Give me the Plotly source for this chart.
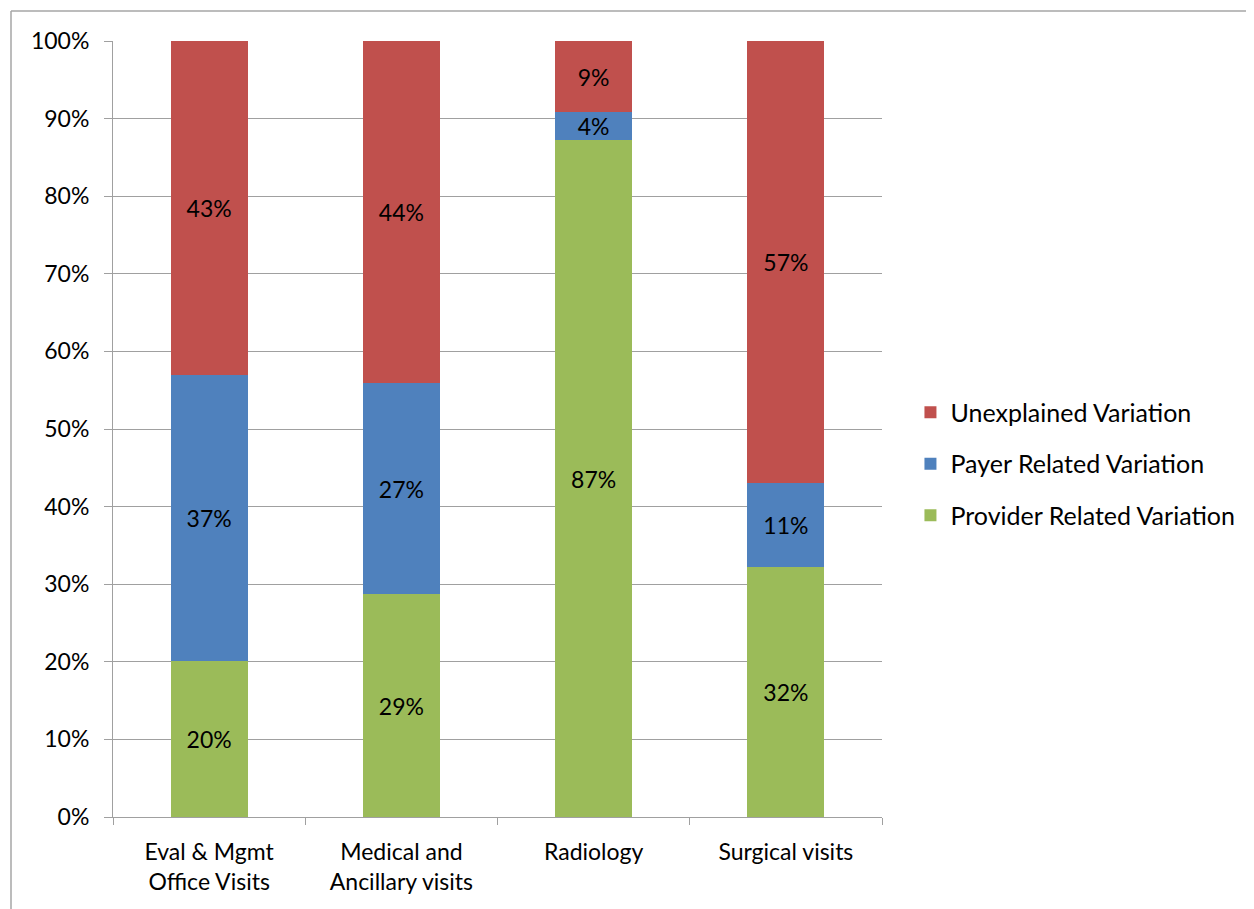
import plotly.graph_objects as go

categories = ["Eval & Mgmt<br>Office Visits", "Medical and<br>Ancillary visits", "Radiology", "Surgical visits"]
provider = [20.1, 28.7, 87.2, 32.2]
payer = [36.8, 27.2, 3.6, 10.8]
unexplained = [43.1, 44.1, 9.2, 57.0]

series = [
    ("Provider Related Variation", provider, "#9BBB59", 3),
    ("Payer Related Variation", payer, "#4F81BD", 2),
    ("Unexplained Variation", unexplained, "#C0504D", 1),
]

FONT = "Lato"
FS = 23
fig = go.Figure()
for name, vals, color, rank in series:
    fig.add_trace(go.Bar(
        x=categories, y=vals, name=name,
        marker=dict(color=color, line=dict(color=color, width=0)),
        texttemplate="%{y:.0f}%", textposition="inside",
        insidetextanchor="middle", textangle=0,
        constraintext="none",
        textfont=dict(color="black", size=FS, family=FONT),
        legendgroup=name, legendrank=rank,
        hoverinfo="skip",
    ))

# page has 8px body offset
OFF = 8
W, H = 1254 - OFF, 909 - OFF
L, R, T, B = 113 - OFF, 882 - OFF, 41 - OFF, 817 - OFF
pw, ph = R - L, B - T
bx = (11 - OFF - L) / pw
by = (B - (11 - OFF)) / ph

fig.update_layout(
    width=W, height=H,
    barmode="stack", bargap=0.6,
    margin=dict(l=L, r=W - R, t=T, b=H - B, autoexpand=False),
    paper_bgcolor="white", plot_bgcolor="white",
    font=dict(family=FONT, size=FS, color="black"),
    showlegend=True,
    legend=dict(
        traceorder="grouped", tracegroupgap=16,
        x=1.037, xanchor="left", y=0.455, yanchor="middle",
        font=dict(size=25, family=FONT), itemwidth=30,
        bgcolor="rgba(0,0,0,0)",
    ),
    xaxis=dict(
        showgrid=False, showline=True, linecolor="#A0A0A0", linewidth=1,
        ticks="outside", tickson="boundaries", ticklen=7, tickcolor="#A0A0A0",
        tickfont=dict(size=FS, family=FONT), fixedrange=True,
        ticklabelstandoff=14,
    ),
    yaxis=dict(
        range=[0, 100], dtick=10, ticksuffix="%",
        showgrid=True, gridcolor="#A0A0A0", gridwidth=1,
        showline=True, linecolor="#A0A0A0", linewidth=1,
        ticks="outside", ticklen=8, tickcolor="#A0A0A0",
        tickfont=dict(size=FS, family=FONT), zeroline=False,
        ticklabelstandoff=10,
    ),
    shapes=[
        dict(type="line", xref="paper", yref="paper", x0=bx, x1=1.6, y0=by, y1=by,
             line=dict(color="#A6A6A6", width=1.5)),
        dict(type="line", xref="paper", yref="paper", x0=bx, x1=bx, y0=by, y1=-0.3,
             line=dict(color="#A6A6A6", width=1.5)),
    ],
)

fig.write_html("out.html")
